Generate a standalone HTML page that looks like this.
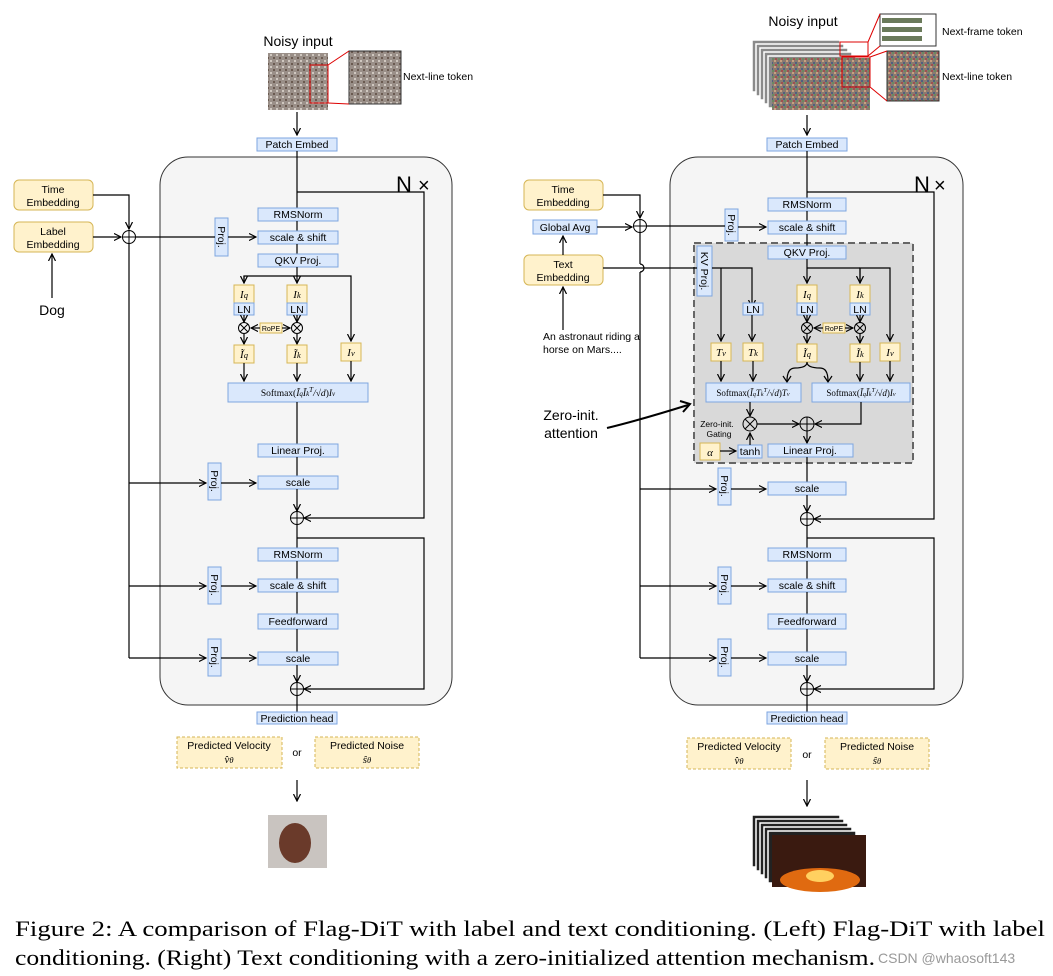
<!DOCTYPE html>
<html><head><meta charset="utf-8"><style>
body{margin:0;background:#fff}
svg{display:block}
.b{fill:#dae8fc;stroke:#7ea6e0;stroke-width:1}
.y{fill:#fff2cc;stroke:#d6b656;stroke-width:1}
.yd{fill:#fff2cc;stroke:#d6b656;stroke-width:1;stroke-dasharray:3 2}
.l{stroke:#000;stroke-width:1.2;fill:none}
text{font-family:"Liberation Sans",sans-serif;font-size:10.5px;fill:#000}
.c{text-anchor:middle}
.m{font-family:"Liberation Serif",serif;font-style:italic;font-size:11px}
.sm{font-family:"Liberation Serif",serif;font-size:8.5px}
</style></head><body>
<svg width="1053" height="976" viewBox="0 0 1053 976">
<defs><marker id="a" markerWidth="8" markerHeight="8" refX="7" refY="4" orient="auto" markerUnits="userSpaceOnUse"><path d="M0,0.5 L7,4 L0,7.5" fill="none" stroke="#000" stroke-width="1.2"/></marker>
<pattern id="nz" width="6" height="6" patternUnits="userSpaceOnUse"><rect width="6" height="6" fill="#8a7a70"/><rect x="0" y="0" width="2" height="2" fill="#c8a080"/><rect x="3" y="2" width="2" height="2" fill="#506080"/><rect x="1" y="4" width="2" height="2" fill="#a05050"/><rect x="4" y="4" width="2" height="2" fill="#6a8a60"/></pattern>
<pattern id="nz2" width="6" height="6" patternUnits="userSpaceOnUse"><rect width="6" height="6" fill="#9a8f88"/><rect x="0" y="0" width="2" height="2" fill="#d0c8c0"/><rect x="3" y="3" width="2" height="2" fill="#6a5a50"/></pattern>
</defs>

<g id="L">
<!-- noisy input left -->
<text x="298" y="46" class="c" style="font-size:14px">Noisy input</text>
<rect x="268" y="53" width="60" height="57" fill="url(#nz2)"/>
<rect x="310" y="65" width="18" height="38" fill="none" stroke="#d00"/>
<rect x="349" y="51" width="52" height="53" fill="url(#nz2)" stroke="#333"/>
<line x1="328" y1="65" x2="349" y2="51" stroke="#d00"/><line x1="328" y1="103" x2="349" y2="104" stroke="#d00"/>
<text x="403" y="80">Next-line token</text>
<line x1="297" y1="112" x2="297" y2="135" class="l" marker-end="url(#a)"/>
<rect x="257" y="138" width="80" height="13" class="b"/><text x="297" y="148" class="c">Patch Embed</text>
<rect x="160" y="157" width="292" height="548" rx="28" fill="#f5f5f5" stroke="#333"/>
<text x="396" y="192" style="font-size:22px">N</text><text x="418" y="192" style="font-size:20px">×</text>
<line x1="297" y1="151" x2="297" y2="208" class="l"/>
<polyline points="297,192 424,192 424,518 304,518" class="l" marker-end="url(#a)"/>
<rect x="258" y="208" width="80" height="13" class="b"/><text x="298" y="218" class="c">RMSNorm</text>
<line x1="297" y1="221" x2="297" y2="231" class="l"/>
<rect x="258" y="231" width="80" height="13" class="b"/><text x="298" y="241" class="c">scale &amp; shift</text>
<line x1="297" y1="244" x2="297" y2="254" class="l"/>
<rect x="258" y="254" width="80" height="13" class="b"/><text x="298" y="264" class="c">QKV Proj.</text>
<rect x="215" y="218" width="13" height="38" class="b"/><text transform="translate(218,237) rotate(90)" class="c">Proj.</text>
<line x1="228" y1="237" x2="256" y2="237" class="l" marker-end="url(#a)"/>
<line x1="297" y1="267" x2="297" y2="283" class="l" marker-end="url(#a)"/>
<polyline points="244,283 244,276 351,276 351,341" class="l" marker-end="url(#a)"/>
<line x1="244" y1="276" x2="244" y2="283" class="l" marker-end="url(#a)"/>
<rect x="234" y="285" width="20" height="18" class="y"/><text x="244" y="298" class="c m">I<tspan class="sm">q</tspan></text>
<rect x="234" y="303" width="20" height="12" class="b"/><text x="244" y="313" class="c">LN</text>
<rect x="287" y="285" width="20" height="18" class="y"/><text x="297" y="298" class="c m">I<tspan class="sm">k</tspan></text>
<rect x="287" y="303" width="20" height="12" class="b"/><text x="297" y="313" class="c">LN</text>
<line x1="244" y1="315" x2="244" y2="322" class="l" marker-end="url(#a)"/><line x1="297" y1="315" x2="297" y2="322" class="l" marker-end="url(#a)"/>
<circle cx="244" cy="328" r="5.5" fill="none" stroke="#000"/><path d="M240,324l8,8M248,324l-8,8" stroke="#000"/>
<circle cx="297" cy="328" r="5.5" fill="none" stroke="#000"/><path d="M293,324l8,8M301,324l-8,8" stroke="#000"/>
<rect x="260" y="323" width="22" height="10" class="y"/><text x="271" y="331" class="c" style="font-size:7px">RoPE</text>
<line x1="260" y1="328" x2="251" y2="328" class="l" marker-end="url(#a)"/><line x1="282" y1="328" x2="290" y2="328" class="l" marker-end="url(#a)"/>
<line x1="244" y1="334" x2="244" y2="344" class="l" marker-end="url(#a)"/><line x1="297" y1="334" x2="297" y2="344" class="l" marker-end="url(#a)"/>
<rect x="234" y="345" width="20" height="18" class="y"/><text x="244" y="358" class="c m">Ĩ<tspan class="sm">q</tspan></text>
<rect x="287" y="345" width="20" height="18" class="y"/><text x="297" y="358" class="c m">Ĩ<tspan class="sm">k</tspan></text>
<rect x="341" y="343" width="20" height="18" class="y"/><text x="351" y="356" class="c m">I<tspan class="sm">v</tspan></text>
<line x1="244" y1="363" x2="244" y2="381" class="l" marker-end="url(#a)"/><line x1="297" y1="363" x2="297" y2="381" class="l" marker-end="url(#a)"/><line x1="351" y1="361" x2="351" y2="381" class="l" marker-end="url(#a)"/>
<rect x="228" y="383" width="140" height="19" class="b"/><text x="298" y="396" class="c" style="font-family:'Liberation Serif',serif;font-size:9.5px">Softmax(<tspan font-style="italic">Ĩ<tspan font-size="7">q</tspan>Ĩ<tspan font-size="7">k</tspan><tspan font-size="7" dy="-4">T</tspan><tspan dy="4">/√d</tspan></tspan>)<tspan font-style="italic">I<tspan font-size="7">v</tspan></tspan></text>
<line x1="297" y1="402" x2="297" y2="444" class="l"/>
<rect x="258" y="444" width="80" height="13" class="b"/><text x="298" y="454" class="c">Linear Proj.</text>
<line x1="297" y1="457" x2="297" y2="476" class="l"/>
<rect x="258" y="476" width="80" height="13" class="b"/><text x="298" y="486" class="c">scale</text>
<rect x="208" y="463" width="13" height="37" class="b"/><text transform="translate(211,481) rotate(90)" class="c">Proj.</text>
<line x1="221" y1="483" x2="256" y2="483" class="l" marker-end="url(#a)"/>
<line x1="297" y1="489" x2="297" y2="511" class="l" marker-end="url(#a)"/>
<circle cx="297" cy="518" r="6.5" fill="none" stroke="#000"/><path d="M290.5,518h13M297,511.5v13" stroke="#000"/>
<line x1="297" y1="525" x2="297" y2="548" class="l"/>
<polyline points="297,538 424,538 424,689 304,689" class="l" marker-end="url(#a)"/>
<rect x="258" y="548" width="80" height="13" class="b"/><text x="298" y="558" class="c">RMSNorm</text>
<line x1="297" y1="561" x2="297" y2="579" class="l"/>
<rect x="258" y="579" width="80" height="13" class="b"/><text x="298" y="589" class="c">scale &amp; shift</text>
<rect x="208" y="567" width="13" height="37" class="b"/><text transform="translate(211,585) rotate(90)" class="c">Proj.</text>
<line x1="221" y1="586" x2="256" y2="586" class="l" marker-end="url(#a)"/>
<line x1="297" y1="592" x2="297" y2="614" class="l"/>
<rect x="258" y="614" width="80" height="15" class="b"/><text x="298" y="625" class="c">Feedforward</text>
<line x1="297" y1="629" x2="297" y2="652" class="l"/>
<rect x="258" y="652" width="80" height="13" class="b"/><text x="298" y="662" class="c">scale</text>
<rect x="208" y="639" width="13" height="37" class="b"/><text transform="translate(211,657) rotate(90)" class="c">Proj.</text>
<line x1="221" y1="658" x2="256" y2="658" class="l" marker-end="url(#a)"/>
<line x1="297" y1="665" x2="297" y2="682" class="l" marker-end="url(#a)"/>
<circle cx="297" cy="689" r="6.5" fill="none" stroke="#000"/><path d="M290.5,689h13M297,682.5v13" stroke="#000"/>
<line x1="297" y1="696" x2="297" y2="712" class="l"/>
<rect x="257" y="712" width="80" height="12" class="b"/><text x="297" y="722" class="c">Prediction head</text>
<rect x="177" y="737" width="105" height="31" class="yd"/><text x="229" y="749" class="c">Predicted Velocity</text><text x="229" y="763" class="c m">v̂<tspan class="sm">θ</tspan></text>
<rect x="315" y="737" width="104" height="31" class="yd"/><text x="367" y="749" class="c">Predicted Noise</text><text x="367" y="763" class="c m">ŝ<tspan class="sm">θ</tspan></text>
<text x="297" y="756" class="c">or</text>
<line x1="297" y1="780" x2="297" y2="801" class="l" marker-end="url(#a)"/>
<rect x="268" y="815" width="59" height="53" fill="#c9c4c0"/><ellipse cx="295" cy="843" rx="16" ry="20" fill="#6a3a2a"/>
<!-- left conditioning -->
<rect x="14" y="180" width="79" height="30" rx="5" class="y"/><text x="53" y="193" class="c">Time</text><text x="53" y="206" class="c">Embedding</text>
<rect x="14" y="222" width="79" height="30" rx="5" class="y"/><text x="53" y="235" class="c">Label</text><text x="53" y="248" class="c">Embedding</text>
<polyline points="93,195 129,195 129,229" class="l" marker-end="url(#a)"/>
<line x1="93" y1="237" x2="121" y2="237" class="l" marker-end="url(#a)"/>
<circle cx="129" cy="237" r="6.5" fill="#fff" stroke="#000"/><path d="M122.5,237h13M129,230.5v13" stroke="#000"/>
<line x1="136" y1="237" x2="215" y2="237" class="l"/>
<line x1="129" y1="244" x2="129" y2="658" class="l"/>
<line x1="129" y1="483" x2="206" y2="483" class="l" marker-end="url(#a)"/>
<line x1="129" y1="586" x2="206" y2="586" class="l" marker-end="url(#a)"/>
<line x1="129" y1="658" x2="206" y2="658" class="l" marker-end="url(#a)"/>
<line x1="52" y1="298" x2="52" y2="254" class="l" marker-end="url(#a)"/>
<text x="52" y="315" class="c" style="font-size:14px">Dog</text>
</g>

<g id="R">
<text x="803" y="26" class="c" style="font-size:14px">Noisy input</text>
<g fill="#8a8a8a" stroke="#fff" stroke-width="1.5"><rect x="752" y="40" width="88" height="52"/><rect x="756" y="44" width="88" height="52"/><rect x="760" y="48" width="88" height="52"/><rect x="764" y="52" width="88" height="52"/><rect x="768" y="56" width="88" height="52"/></g>
<rect x="772" y="58" width="98" height="52" fill="url(#nz)"/>
<rect x="840" y="42" width="28" height="14" fill="none" stroke="#d00"/><rect x="842" y="57" width="28" height="30" fill="none" stroke="#d00"/>
<rect x="880" y="14" width="56" height="32" fill="#fff" stroke="#333"/><rect x="882" y="18" width="40" height="5" fill="#6a7a5a"/><rect x="882" y="27" width="40" height="5" fill="#6a7a5a"/><rect x="882" y="36" width="40" height="5" fill="#6a7a5a"/>
<rect x="887" y="51" width="52" height="50" fill="url(#nz)" stroke="#333"/>
<line x1="868" y1="42" x2="880" y2="14" stroke="#d00"/><line x1="868" y1="56" x2="880" y2="46" stroke="#d00"/><line x1="870" y1="57" x2="887" y2="51" stroke="#d00"/><line x1="870" y1="87" x2="887" y2="101" stroke="#d00"/>
<text x="942" y="35">Next-frame token</text><text x="942" y="80">Next-line token</text>
<line x1="807" y1="115" x2="807" y2="135" class="l" marker-end="url(#a)"/>
<rect x="767" y="138" width="80" height="13" class="b"/><text x="807" y="148" class="c">Patch Embed</text>
<rect x="670" y="157" width="293" height="548" rx="28" fill="#f5f5f5" stroke="#333"/>
<text x="914" y="192" style="font-size:22px">N</text><text x="934" y="192" style="font-size:20px">×</text>
<line x1="807" y1="151" x2="807" y2="198" class="l"/>
<polyline points="807,192 934,192 934,519 814,519" class="l" marker-end="url(#a)"/>
<rect x="768" y="198" width="78" height="13" class="b"/><text x="807" y="208" class="c">RMSNorm</text>
<line x1="807" y1="211" x2="807" y2="221" class="l"/>
<rect x="768" y="221" width="78" height="13" class="b"/><text x="807" y="231" class="c">scale &amp; shift</text>
<rect x="725" y="209" width="13" height="32" class="b"/><text transform="translate(728,225) rotate(90)" class="c">Proj.</text>
<line x1="738" y1="227" x2="766" y2="227" class="l" marker-end="url(#a)"/>
<rect x="694" y="243" width="219" height="220" fill="#d9d9d9" stroke="#666" stroke-width="2" stroke-dasharray="7 4"/>
<line x1="807" y1="234" x2="807" y2="246" class="l"/>
<rect x="768" y="246" width="78" height="13" class="b"/><text x="807" y="256" class="c">QKV Proj.</text>
<rect x="697" y="246" width="15" height="50" class="b"/><text transform="translate(701,271) rotate(90)" class="c">KV Proj.</text>
<line x1="807" y1="259" x2="807" y2="283" class="l" marker-end="url(#a)"/>
<polyline points="860,283 860,268 890,268 890,341" class="l" marker-end="url(#a)"/>
<line x1="807" y1="268" x2="860" y2="268" class="l"/>
<line x1="860" y1="268" x2="860" y2="283" class="l" marker-end="url(#a)"/>
<polyline points="712,268 752,268 752,307" class="l" marker-end="url(#a)"/>
<line x1="721" y1="268" x2="721" y2="341" class="l" marker-end="url(#a)"/>
<rect x="743" y="303" width="20" height="12" class="b"/><text x="753" y="313" class="c">LN</text>
<line x1="752" y1="315" x2="752" y2="341" class="l" marker-end="url(#a)"/>
<rect x="711" y="343" width="20" height="18" class="y"/><text x="721" y="356" class="c m">T<tspan class="sm">v</tspan></text>
<rect x="743" y="343" width="20" height="18" class="y"/><text x="753" y="356" class="c m">T<tspan class="sm">k</tspan></text>
<rect x="797" y="285" width="20" height="18" class="y"/><text x="807" y="298" class="c m">I<tspan class="sm">q</tspan></text>
<rect x="797" y="303" width="20" height="12" class="b"/><text x="807" y="313" class="c">LN</text>
<rect x="850" y="285" width="20" height="18" class="y"/><text x="860" y="298" class="c m">I<tspan class="sm">k</tspan></text>
<rect x="850" y="303" width="20" height="12" class="b"/><text x="860" y="313" class="c">LN</text>
<line x1="807" y1="315" x2="807" y2="322" class="l" marker-end="url(#a)"/><line x1="860" y1="315" x2="860" y2="322" class="l" marker-end="url(#a)"/>
<circle cx="807" cy="328" r="5.5" fill="none" stroke="#000"/><path d="M803,324l8,8M811,324l-8,8" stroke="#000"/>
<circle cx="860" cy="328" r="5.5" fill="none" stroke="#000"/><path d="M856,324l8,8M864,324l-8,8" stroke="#000"/>
<rect x="823" y="323" width="22" height="10" class="y"/><text x="834" y="331" class="c" style="font-size:7px">RoPE</text>
<line x1="823" y1="328" x2="814" y2="328" class="l" marker-end="url(#a)"/><line x1="845" y1="328" x2="853" y2="328" class="l" marker-end="url(#a)"/>
<line x1="807" y1="334" x2="807" y2="343" class="l" marker-end="url(#a)"/><line x1="860" y1="334" x2="860" y2="343" class="l" marker-end="url(#a)"/>
<rect x="797" y="344" width="20" height="18" class="y"/><text x="807" y="357" class="c m">Ĩ<tspan class="sm">q</tspan></text>
<rect x="850" y="344" width="20" height="18" class="y"/><text x="860" y="357" class="c m">Ĩ<tspan class="sm">k</tspan></text>
<rect x="880" y="343" width="20" height="18" class="y"/><text x="890" y="356" class="c m">I<tspan class="sm">v</tspan></text>
<path d="M807,362 Q807,368 795,368 Q787,368 787,381 M807,362 Q807,368 820,368 Q828,368 828,381" class="l"/>
<path d="M783,376 L787,382 L791,376 M824,376 L828,382 L832,376" class="l"/>
<line x1="721" y1="361" x2="721" y2="381" class="l" marker-end="url(#a)"/><line x1="753" y1="361" x2="753" y2="381" class="l" marker-end="url(#a)"/>
<line x1="860" y1="362" x2="860" y2="381" class="l" marker-end="url(#a)"/><line x1="890" y1="361" x2="890" y2="381" class="l" marker-end="url(#a)"/>
<rect x="706" y="383" width="95" height="19" class="b"/><text x="753" y="396" class="c" style="font-family:'Liberation Serif',serif;font-size:9px">Softmax(<tspan font-style="italic">Ĩ<tspan font-size="6">q</tspan>T<tspan font-size="6">k</tspan><tspan font-size="6" dy="-4">T</tspan><tspan dy="4">/√d</tspan></tspan>)<tspan font-style="italic">T<tspan font-size="6">v</tspan></tspan></text>
<rect x="812" y="383" width="98" height="19" class="b"/><text x="861" y="396" class="c" style="font-family:'Liberation Serif',serif;font-size:9px">Softmax(<tspan font-style="italic">Ĩ<tspan font-size="6">q</tspan>Ĩ<tspan font-size="6">k</tspan><tspan font-size="6" dy="-4">T</tspan><tspan dy="4">/√d</tspan></tspan>)<tspan font-style="italic">I<tspan font-size="6">v</tspan></tspan></text>
<line x1="750" y1="402" x2="750" y2="416" class="l" marker-end="url(#a)"/>
<circle cx="750" cy="424" r="7" fill="none" stroke="#000"/><path d="M745,419l10,10M755,419l-10,10" stroke="#000"/>
<line x1="757" y1="424" x2="799" y2="424" class="l" marker-end="url(#a)"/>
<polyline points="861,402 861,424 815,424" class="l" marker-end="url(#a)"/>
<circle cx="807" cy="424" r="7" fill="none" stroke="#000"/><path d="M800,424h14M807,417v14" stroke="#000"/>
<line x1="807" y1="431" x2="807" y2="443" class="l" marker-end="url(#a)"/>
<text x="717" y="427" class="c" style="font-size:8.5px">Zero-init.</text><text x="719" y="437" class="c" style="font-size:8.5px">Gating</text>
<rect x="700" y="443" width="20" height="17" class="y"/><text x="710" y="456" class="c m">α</text>
<line x1="720" y1="451" x2="736" y2="451" class="l" marker-end="url(#a)"/>
<rect x="738" y="445" width="24" height="13" class="b"/><text x="750" y="455" class="c">tanh</text>
<line x1="750" y1="445" x2="750" y2="433" class="l" marker-end="url(#a)"/>
<rect x="768" y="444" width="85" height="13" class="b"/><text x="810" y="454" class="c">Linear Proj.</text>
<line x1="807" y1="457" x2="807" y2="482" class="l"/>
<rect x="768" y="482" width="78" height="13" class="b"/><text x="807" y="492" class="c">scale</text>
<rect x="718" y="468" width="13" height="37" class="b"/><text transform="translate(721,486) rotate(90)" class="c">Proj.</text>
<line x1="731" y1="489" x2="766" y2="489" class="l" marker-end="url(#a)"/>
<line x1="807" y1="495" x2="807" y2="512" class="l" marker-end="url(#a)"/>
<circle cx="807" cy="519" r="6.5" fill="none" stroke="#000"/><path d="M800.5,519h13M807,512.5v13" stroke="#000"/>
<line x1="807" y1="526" x2="807" y2="548" class="l"/>
<polyline points="807,538 934,538 934,689 814,689" class="l" marker-end="url(#a)"/>
<rect x="768" y="548" width="78" height="13" class="b"/><text x="807" y="558" class="c">RMSNorm</text>
<line x1="807" y1="561" x2="807" y2="579" class="l"/>
<rect x="768" y="579" width="78" height="13" class="b"/><text x="807" y="589" class="c">scale &amp; shift</text>
<rect x="718" y="567" width="13" height="37" class="b"/><text transform="translate(721,585) rotate(90)" class="c">Proj.</text>
<line x1="731" y1="586" x2="766" y2="586" class="l" marker-end="url(#a)"/>
<line x1="807" y1="592" x2="807" y2="614" class="l"/>
<rect x="768" y="614" width="78" height="15" class="b"/><text x="807" y="625" class="c">Feedforward</text>
<line x1="807" y1="629" x2="807" y2="652" class="l"/>
<rect x="768" y="652" width="78" height="13" class="b"/><text x="807" y="662" class="c">scale</text>
<rect x="718" y="639" width="13" height="37" class="b"/><text transform="translate(721,657) rotate(90)" class="c">Proj.</text>
<line x1="731" y1="658" x2="766" y2="658" class="l" marker-end="url(#a)"/>
<line x1="807" y1="665" x2="807" y2="682" class="l" marker-end="url(#a)"/>
<circle cx="807" cy="689" r="6.5" fill="none" stroke="#000"/><path d="M800.5,689h13M807,682.5v13" stroke="#000"/>
<line x1="807" y1="696" x2="807" y2="712" class="l"/>
<rect x="767" y="712" width="80" height="12" class="b"/><text x="807" y="722" class="c">Prediction head</text>
<rect x="687" y="738" width="104" height="31" class="yd"/><text x="739" y="750" class="c">Predicted Velocity</text><text x="739" y="764" class="c m">v̂<tspan class="sm">θ</tspan></text>
<rect x="825" y="738" width="104" height="31" class="yd"/><text x="877" y="750" class="c">Predicted Noise</text><text x="877" y="764" class="c m">ŝ<tspan class="sm">θ</tspan></text>
<text x="807" y="758" class="c">or</text>
<line x1="807" y1="780" x2="807" y2="806" class="l" marker-end="url(#a)"/>
<g fill="#222" stroke="#fff" stroke-width="1.5"><rect x="752" y="815" width="88" height="52"/><rect x="756" y="819" width="88" height="52"/><rect x="760" y="823" width="88" height="52"/><rect x="764" y="827" width="88" height="52"/><rect x="768" y="831" width="88" height="52"/></g>
<rect x="772" y="835" width="94" height="52" fill="#3a1a10"/><ellipse cx="820" cy="880" rx="40" ry="12" fill="#e06a10"/><ellipse cx="820" cy="876" rx="14" ry="6" fill="#ffd060"/>
<!-- right conditioning -->
<rect x="524" y="180" width="79" height="30" rx="5" class="y"/><text x="563" y="193" class="c">Time</text><text x="563" y="206" class="c">Embedding</text>
<rect x="533" y="220" width="64" height="14" class="b"/><text x="565" y="231" class="c">Global Avg</text>
<rect x="524" y="255" width="79" height="30" rx="5" class="y"/><text x="563" y="268" class="c">Text</text><text x="563" y="281" class="c">Embedding</text>
<line x1="563" y1="255" x2="563" y2="236" class="l" marker-end="url(#a)"/>
<polyline points="603,195 640,195 640,218" class="l" marker-end="url(#a)"/>
<line x1="597" y1="227" x2="632" y2="227" class="l" marker-end="url(#a)"/>
<circle cx="640" cy="226" r="6.5" fill="#fff" stroke="#000"/><path d="M633.5,226h13M640,219.5v13" stroke="#000"/>
<line x1="647" y1="226" x2="725" y2="226" class="l"/>
<line x1="640" y1="233" x2="640" y2="264" class="l"/><path d="M640,264 a4,4 0 0 1 0,8" class="l"/>
<line x1="640" y1="272" x2="640" y2="658" class="l"/>
<line x1="603" y1="268" x2="697" y2="268" class="l"/>
<line x1="640" y1="489" x2="716" y2="489" class="l" marker-end="url(#a)"/>
<line x1="640" y1="586" x2="716" y2="586" class="l" marker-end="url(#a)"/>
<line x1="640" y1="658" x2="716" y2="658" class="l" marker-end="url(#a)"/>
<line x1="563" y1="330" x2="563" y2="287" class="l" marker-end="url(#a)"/>
<text x="543" y="340">An astronaut riding a</text><text x="543" y="353">horse on Mars....</text>
<text x="571" y="420" class="c" style="font-size:14px">Zero-init.</text><text x="571" y="438" class="c" style="font-size:14px">attention</text>
<path d="M607,428 Q640,420 688,405" stroke="#000" stroke-width="2" fill="none"/><path d="M680,401 L690,404 L683,412" stroke="#000" stroke-width="2" fill="none"/>
</g>

<text x="15" y="936" textLength="1030" lengthAdjust="spacingAndGlyphs" style="font-family:'Liberation Serif',serif;font-size:22px">Figure 2: A comparison of Flag-DiT with label and text conditioning. (Left) Flag-DiT with label</text>
<text x="15" y="965" textLength="860" lengthAdjust="spacingAndGlyphs" style="font-family:'Liberation Serif',serif;font-size:22px">conditioning. (Right) Text conditioning with a zero-initialized attention mechanism.</text>
<text x="878" y="963" style="font-size:14px;fill:#999">CSDN @whaosoft143</text>
</svg>
</body></html>
